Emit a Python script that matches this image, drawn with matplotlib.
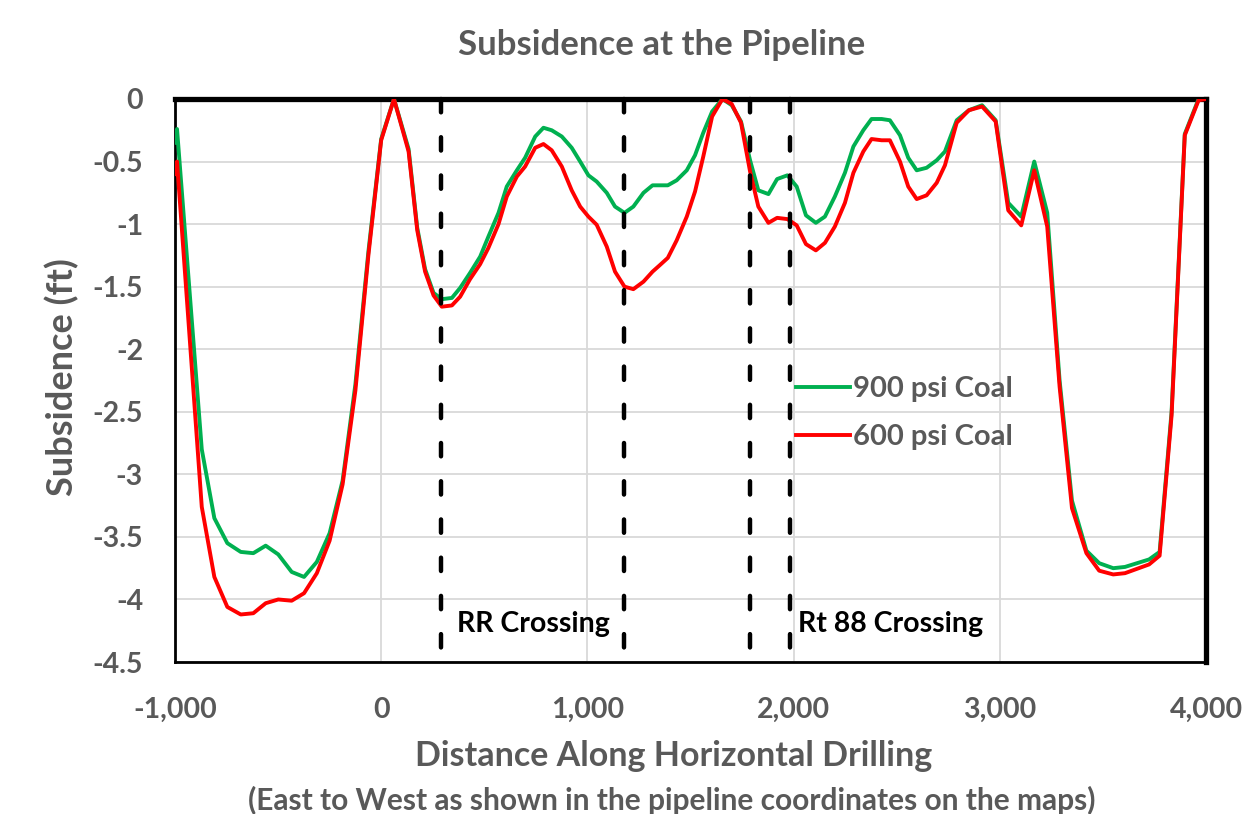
import matplotlib
matplotlib.use("Agg")
import matplotlib.pyplot as plt

# distance along the horizontal drilling (ft)
distance = [-1000, -990, -870, -809, -746, -681, -620, -560, -499, -434,
            -374, -312, -250, -187, -125, -62, 0, 62, 133, 175,
            213, 254, 294, 343, 383, 431, 480, 520, 569, 609,
            658, 698, 747, 787, 827, 876, 924, 965, 1005, 1045,
            1094, 1134, 1180, 1223, 1272, 1316, 1350, 1390, 1433, 1482,
            1522, 1562, 1605, 1655, 1700, 1745, 1789, 1829, 1878, 1920,
            1970, 2015, 2060, 2108, 2152, 2200, 2249, 2290, 2338, 2378,
            2427, 2467, 2516, 2556, 2597, 2645, 2694, 2734, 2791, 2850,
            2914, 2980, 3041, 3104, 3167, 3230, 3290, 3350, 3420, 3482,
            3550, 3607, 3724, 3775, 3833, 3897, 3964, 4000]

coal_900 = [-0.35, -0.24, -2.80, -3.35, -3.55, -3.62, -3.63, -3.57, -3.64, -3.78,
            -3.82, -3.70, -3.47, -3.05, -2.28, -1.22, -0.32, 0.00, -0.40, -1.03,
            -1.36, -1.55, -1.60, -1.59, -1.51, -1.39, -1.26, -1.10, -0.91, -0.70,
            -0.57, -0.47, -0.30, -0.23, -0.25, -0.30, -0.39, -0.50, -0.61, -0.66,
            -0.75, -0.86, -0.91, -0.86, -0.75, -0.69, -0.69, -0.69, -0.65, -0.57,
            -0.45, -0.27, -0.10, 0.00, -0.05, -0.18, -0.49, -0.73, -0.76, -0.64,
            -0.61, -0.70, -0.93, -0.99, -0.94, -0.78, -0.59, -0.38, -0.25, -0.16,
            -0.16, -0.17, -0.29, -0.47, -0.57, -0.55, -0.49, -0.42, -0.17, -0.09,
            -0.05, -0.17, -0.83, -0.94, -0.50, -0.91, -2.25, -3.21, -3.61, -3.71,
            -3.75, -3.74, -3.68, -3.62, -2.50, -0.28, 0.00, 0.00]

coal_600 = [-0.60, -0.50, -3.26, -3.82, -4.06, -4.12, -4.11, -4.03, -4.00, -4.01,
            -3.95, -3.79, -3.53, -3.08, -2.33, -1.25, -0.33, 0.00, -0.42, -1.05,
            -1.38, -1.57, -1.66, -1.65, -1.58, -1.44, -1.32, -1.19, -1.00, -0.78,
            -0.62, -0.54, -0.39, -0.36, -0.41, -0.54, -0.73, -0.86, -0.94, -1.005,
            -1.18, -1.38, -1.50, -1.52, -1.46, -1.38, -1.33, -1.27, -1.13, -0.94,
            -0.74, -0.46, -0.14, 0.00, -0.04, -0.19, -0.58, -0.86, -0.99, -0.95,
            -0.96, -1.01, -1.16, -1.21, -1.15, -1.02, -0.83, -0.59, -0.42, -0.32,
            -0.33, -0.33, -0.50, -0.70, -0.80, -0.77, -0.67, -0.53, -0.19, -0.09,
            -0.06, -0.18, -0.89, -1.01, -0.57, -1.02, -2.30, -3.27, -3.63, -3.77,
            -3.80, -3.79, -3.72, -3.65, -2.53, -0.29, -0.01, 0.00]

crossings = [288, 1178, 1790, 1985]
crossing_labels = ["RR Crossing", "Rt 88 Crossing"]
crossing_label_x = [370, 2020]

x_ticks = [-1000, 0, 1000, 2000, 3000, 4000]
x_tick_labels = ["-1,000", "0", "1,000", "2,000", "3,000", "4,000"]
y_ticks = [0, -0.5, -1, -1.5, -2, -2.5, -3, -3.5, -4, -4.5]
y_tick_labels = ["0", "-0.5", "-1", "-1.5", "-2", "-2.5", "-3", "-3.5", "-4", "-4.5"]

GRAY = "#595959"
plt.rcParams["font.family"] = ["Lato", "DejaVu Sans"]
plt.rcParams["font.weight"] = "bold"

fig = plt.figure(figsize=(12.56, 8.14), dpi=100)
ax = fig.add_axes([0.1393, 0.1867, 0.8209, 0.6917])

y_top, y_bottom = 0, -4.5
ax.set_xlim(-1000, 4000)
ax.set_ylim(y_bottom, y_top)

ax.plot(distance, coal_900, color="#00B050", lw=2.8, label="900 psi Coal", zorder=3)
ax.plot(distance, coal_600, color="#FF0000", lw=2.8, label="600 psi Coal", zorder=4)

# dashed crossing markers
for c in crossings:
    ax.plot([c, c], [y_top, y_bottom], color="black", lw=3.2,
            linestyle=(0, (3.0, 5.6)), dash_capstyle="round", zorder=5,
            clip_on=False)

for lab, lx in zip(crossing_labels, crossing_label_x):
    ax.text(lx, -4.2, lab, color="black", fontsize=20.5, fontweight="bold",
            ha="left", va="center", zorder=6)

ax.set_xticks(x_ticks)
ax.set_xticklabels(x_tick_labels)
ax.set_yticks(y_ticks)
ax.set_yticklabels(y_tick_labels)
ax.tick_params(axis="both", length=0, labelsize=20.5, labelcolor=GRAY)
ax.tick_params(axis="x", pad=25)
ax.tick_params(axis="y", pad=23)
for lab in ax.get_xticklabels() + ax.get_yticklabels():
    lab.set_fontweight("bold")

ax.grid(True, color="#D9D9D9", lw=1.3, zorder=0)
ax.set_axisbelow(True)

for side in ["top", "right"]:
    ax.spines[side].set_color("black")
    ax.spines[side].set_linewidth(3.8)
for side in ["left", "bottom"]:
    ax.spines[side].set_color("black")
    ax.spines[side].set_linewidth(2)

leg = ax.legend(loc="upper left", bbox_to_anchor=(796 / 1256, 1 - 376 / 814),
                bbox_transform=fig.transFigure, frameon=False, fontsize=21,
                handlelength=1.85, handletextpad=0.1, labelspacing=0.76,
                borderpad=0, borderaxespad=0)
for t in leg.get_texts():
    t.set_color(GRAY)
    t.set_fontweight("bold")

fig.text(0.527, 0.9447, "Subsidence at the Pipeline", ha="center", va="center",
         fontsize=25, fontweight="bold", color=GRAY)
fig.text(0.536, 0.071, "Distance Along Horizontal Drilling", ha="center",
         va="center", fontsize=24.5, fontweight="bold", color=GRAY)
fig.text(0.535, 0.0172, "(East to West as shown in the pipeline coordinates on the maps)",
         ha="center", va="center", fontsize=21.5, fontweight="bold", color=GRAY)
fig.text(0.0494, 0.537, "Subsidence (ft)", ha="center", va="center",
         rotation=90, fontsize=26, fontweight="bold", color=GRAY)

fig.savefig("out.png", dpi=100)
